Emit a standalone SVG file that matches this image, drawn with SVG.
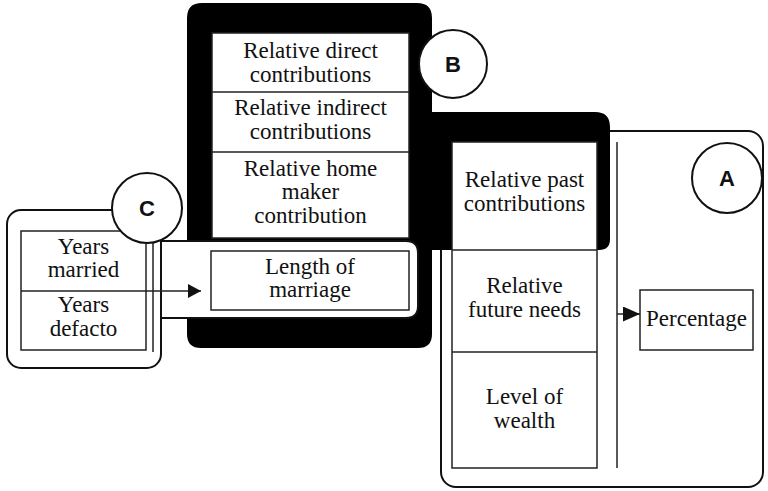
<svg xmlns="http://www.w3.org/2000/svg" width="768" height="491" viewBox="0 0 768 491">
  <defs>
    <style>
      .frame { fill: #fff; stroke: #111; stroke-width: 2; }
      .box { fill: #fff; stroke: #222; stroke-width: 1.5; }
      .rule { stroke: #222; stroke-width: 1.5; fill: none; }
      .lbl { font-family: 'Liberation Serif', 'DejaVu Serif', 'Times New Roman', serif; font-size: 23px; fill: #111; text-anchor: middle; }
      .tag { font-family: 'Liberation Sans', Arial, sans-serif; font-size: 22px; font-weight: bold; fill: #111; text-anchor: middle; }
      .badge { fill: #fff; stroke: #111; stroke-width: 2; }
    </style>
    <marker id="arrowSmall" viewBox="0 0 13 14" refX="13" refY="7" markerWidth="13" markerHeight="14" markerUnits="userSpaceOnUse" orient="auto">
      <path d="M0,0 L13,7 L0,14 Z" fill="#111"/>
    </marker>
    <marker id="arrowLarge" viewBox="0 0 17 15" refX="17" refY="7.5" markerWidth="17" markerHeight="15" markerUnits="userSpaceOnUse" orient="auto">
      <path d="M0,0 L17,7.5 L0,15 Z" fill="#111"/>
    </marker>
  </defs>

  <!-- Group A: outer frame, divider and result -->
  <g id="frameA">
    <rect class="frame" x="441" y="131" width="322" height="356" rx="15"/>
    <line class="rule" x1="617" y1="142" x2="617" y2="468"/>
  </g>
  <g id="percentage">
    <rect class="box" x="640" y="290" width="113" height="60"/>
    <text class="lbl" x="696.5" y="326">Percentage</text>
  </g>

  <!-- Group B: heavy black band -->
  <g id="bandB">
    <path d="M202 3 H417 Q432 3 432 18 V112 H595 Q610 112 610 127 V239 Q610 250 599 250 H432 V334 Q432 348 418 348 H201 Q187 348 187 334 V18 Q187 3 202 3 Z" fill="#000"/>
  </g>

  <g id="contributionsB">
    <rect class="box" x="212" y="33" width="197" height="205"/>
    <line class="rule" x1="212" y1="92" x2="409" y2="92"/>
    <line class="rule" x1="212" y1="152" x2="409" y2="152"/>
    <text class="lbl" x="310.5" y="58">Relative direct</text>
    <text class="lbl" x="310.5" y="82">contributions</text>
    <text class="lbl" x="310.5" y="115">Relative indirect</text>
    <text class="lbl" x="310.5" y="139">contributions</text>
    <text class="lbl" x="310.5" y="176">Relative home</text>
    <text class="lbl" x="310.5" y="199">maker</text>
    <text class="lbl" x="310.5" y="223">contribution</text>
  </g>

  <g id="factorsA">
    <rect class="box" x="452" y="142" width="145" height="326"/>
    <line class="rule" x1="452" y1="250" x2="597" y2="250"/>
    <line class="rule" x1="452" y1="352" x2="597" y2="352"/>
    <text class="lbl" x="524.5" y="187">Relative past</text>
    <text class="lbl" x="524.5" y="211">contributions</text>
    <text class="lbl" x="524.5" y="293">Relative</text>
    <text class="lbl" x="524.5" y="317">future needs</text>
    <text class="lbl" x="524.5" y="404">Level of</text>
    <text class="lbl" x="524.5" y="428">wealth</text>
  </g>

  <!-- Group C: duration inputs -->
  <g id="frameC">
    <rect class="frame" x="7" y="210" width="154" height="158" rx="14"/>
    <path class="frame" d="M161 241 H406 Q418 241 418 253 V306 Q418 318 406 318 H161 Z"/>
    <line class="rule" x1="153" y1="243" x2="153" y2="352"/>
  </g>
  <g id="years">
    <rect class="box" x="21" y="231" width="125" height="119"/>
    <line class="rule" x1="21" y1="291" x2="146" y2="291"/>
    <text class="lbl" x="83.5" y="254">Years</text>
    <text class="lbl" x="83.5" y="277">married</text>
    <text class="lbl" x="83.5" y="312">Years</text>
    <text class="lbl" x="83.5" y="336">defacto</text>
  </g>
  <g id="lengthOfMarriage">
    <rect class="box" x="211" y="251" width="198" height="59"/>
    <text class="lbl" x="310" y="274">Length of</text>
    <text class="lbl" x="310" y="297">marriage</text>
  </g>

  <g id="connectors">
    <line class="rule" x1="146" y1="291" x2="201" y2="291" marker-end="url(#arrowSmall)"/>
    <line class="rule" x1="617" y1="314" x2="640" y2="314" marker-end="url(#arrowLarge)"/>
  </g>

  <!-- Section badges -->
  <g id="badgeA">
    <circle class="badge" cx="727" cy="178" r="35"/>
    <text class="tag" x="727" y="186">A</text>
  </g>
  <g id="badgeB">
    <circle class="badge" cx="453" cy="64" r="34"/>
    <text class="tag" x="453" y="72">B</text>
  </g>
  <g id="badgeC">
    <circle class="badge" cx="147" cy="208" r="35"/>
    <text class="tag" x="147" y="216">C</text>
  </g>
</svg>
